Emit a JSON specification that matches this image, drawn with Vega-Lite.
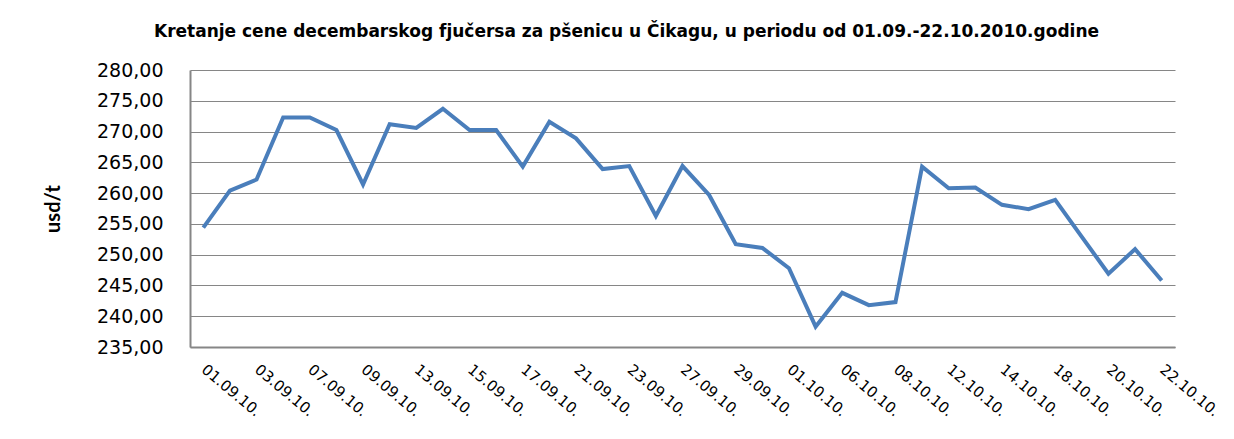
{
  "$schema": "https://vega.github.io/schema/vega-lite/v6.json",
  "width": 985,
  "height": 277,
  "autosize": "none",
  "padding": {"left": 190, "top": 70, "right": 59, "bottom": 92},
  "background": "white",
  "title": {
    "text": "Kretanje cene decembarskog fjučersa za pšenicu u Čikagu, u periodu od 01.09.-22.10.2010.godine",
    "font": "DejaVu Sans",
    "fontSize": 17,
    "fontWeight": "bold",
    "color": "#000000",
    "anchor": "middle",
    "dx": -56,
    "offset": 20
  },
  "data": {
    "values": [
      {"date": "01.09.10.", "price": 254.4},
      {"date": "02.09.10.", "price": 260.4},
      {"date": "03.09.10.", "price": 262.2},
      {"date": "06.09.10.", "price": 272.3},
      {"date": "07.09.10.", "price": 272.3},
      {"date": "08.09.10.", "price": 270.25},
      {"date": "09.09.10.", "price": 261.4},
      {"date": "10.09.10.", "price": 271.2},
      {"date": "13.09.10.", "price": 270.6},
      {"date": "14.09.10.", "price": 273.7},
      {"date": "15.09.10.", "price": 270.25},
      {"date": "16.09.10.", "price": 270.25},
      {"date": "17.09.10.", "price": 264.3},
      {"date": "20.09.10.", "price": 271.6},
      {"date": "21.09.10.", "price": 268.9},
      {"date": "22.09.10.", "price": 263.9},
      {"date": "23.09.10.", "price": 264.4},
      {"date": "24.09.10.", "price": 256.3},
      {"date": "27.09.10.", "price": 264.4},
      {"date": "28.09.10.", "price": 259.7},
      {"date": "29.09.10.", "price": 251.7},
      {"date": "30.09.10.", "price": 251.1},
      {"date": "01.10.10.", "price": 247.8},
      {"date": "04.10.10.", "price": 238.3},
      {"date": "06.10.10.", "price": 243.8},
      {"date": "07.10.10.", "price": 241.8},
      {"date": "08.10.10.", "price": 242.3},
      {"date": "11.10.10.", "price": 264.3},
      {"date": "12.10.10.", "price": 260.8},
      {"date": "13.10.10.", "price": 260.9},
      {"date": "14.10.10.", "price": 258.1},
      {"date": "15.10.10.", "price": 257.4},
      {"date": "18.10.10.", "price": 258.9},
      {"date": "19.10.10.", "price": 252.9},
      {"date": "20.10.10.", "price": 246.9},
      {"date": "21.10.10.", "price": 250.9},
      {"date": "22.10.10.", "price": 245.8}
    ]
  },
  "mark": {"type": "line", "color": "#4A7EBB", "strokeWidth": 4, "strokeJoin": "miter"},
  "encoding": {
    "x": {
      "field": "date",
      "type": "ordinal",
      "sort": null,
      "scale": {"type": "point", "padding": 0.5},
      "axis": {
        "title": null,
        "values": ["01.09.10.", "03.09.10.", "07.09.10.", "09.09.10.", "13.09.10.", "15.09.10.", "17.09.10.", "21.09.10.", "23.09.10.", "27.09.10.", "29.09.10.", "01.10.10.", "06.10.10.", "08.10.10.", "12.10.10.", "14.10.10.", "18.10.10.", "20.10.10.", "22.10.10."],
        "labelAngle": 40,
        "labelAlign": "left",
        "labelBaseline": "middle",
        "labelFont": "DejaVu Sans",
        "labelFontSize": 15,
        "labelColor": "#000000",
        "labelPadding": 20,
        "labelOverlap": false,
        "ticks": false,
        "grid": false,
        "domainColor": "#868686",
        "domainWidth": 2
      }
    },
    "y": {
      "field": "price",
      "type": "quantitative",
      "scale": {"domain": [235, 280], "nice": false, "zero": false},
      "axis": {
        "title": "usd/t",
        "titleFont": "Lato",
        "titleFontSize": 20,
        "titleFontWeight": "bold",
        "titleColor": "#000000",
        "titlePadding": 33,
        "values": [235, 240, 245, 250, 255, 260, 265, 270, 275, 280],
        "labelExpr": "replace(format(datum.value, '.2f'), '.', ',')",
        "labelFont": "DejaVu Sans",
        "labelFontSize": 19,
        "labelColor": "#000000",
        "labelPadding": 27,
        "ticks": false,
        "grid": true,
        "gridColor": "#868686",
        "gridWidth": 1,
        "gridOpacity": 1,
        "domainColor": "#868686",
        "domainWidth": 2
      }
    }
  },
  "config": {"view": {"stroke": null}}
}
